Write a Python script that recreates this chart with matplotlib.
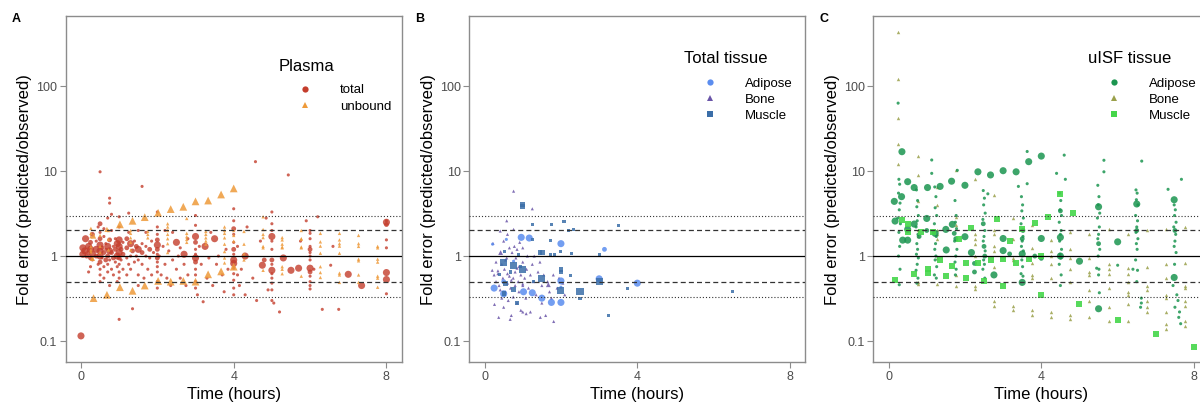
import numpy as np
import matplotlib
matplotlib.use("Agg")
import matplotlib.pyplot as plt
from matplotlib.lines import Line2D
from matplotlib.ticker import NullLocator

plt.rcParams['font.family'] = ['Liberation Sans', 'DejaVu Sans']

# ---- Panel A: plasma ----
plasma_total_t = [
    0.0, 0.05, 0.05, 0.1, 0.12, 0.15, 0.2, 0.2, 0.25, 0.25, 0.25, 0.25, 0.2, 0.3, 0.3, 0.3,
    0.4, 0.4, 0.4, 0.45, 0.45, 0.5, 0.5, 0.5, 0.5, 0.5, 0.5, 0.5, 0.5, 0.5, 0.5, 0.5, 0.55, 0.55, 0.6, 0.6, 0.6, 0.6, 0.6, 0.65, 0.65, 0.65,
    0.7, 0.7, 0.7, 0.7, 0.7, 0.75, 0.75, 0.75, 0.75, 0.75, 0.75, 0.8, 0.8, 0.8, 0.8, 0.85, 0.85, 0.85,
    0.9, 0.9, 0.9, 0.95, 0.95, 0.95, 0.95, 1.0, 1.0, 1.0, 1.0, 1.0, 1.0, 1.0, 1.0, 1.0, 1.0, 1.05, 1.05, 1.1, 1.1, 1.1,
    1.2, 1.2, 1.2, 1.2, 1.25, 1.25, 1.25, 1.3, 1.3, 1.3, 1.35, 1.35, 1.4, 1.4, 1.45, 1.45, 1.5, 1.5, 1.5, 1.5, 1.5,
    1.6, 1.6, 1.6, 1.6, 1.65, 1.7, 1.7, 1.7, 1.75, 1.8, 1.8, 1.85, 1.85, 1.9,
    2.0, 2.0, 2.0, 2.0, 2.0, 2.0, 2.0, 2.0, 2.0, 2.0, 2.0, 2.0, 2.0, 2.05, 2.1, 2.15, 2.2, 2.2, 2.25, 2.3, 2.35, 2.4, 2.4,
    2.5, 2.5, 2.55, 2.6, 2.6, 2.7, 2.7, 2.75, 2.8, 2.8,
    3.0, 3.0, 3.0, 3.0, 3.0, 3.0, 3.0, 3.0, 3.0, 3.0, 3.0, 3.0, 3.05, 3.1, 3.15, 3.2, 3.25, 3.3, 3.35, 3.4, 3.45, 3.5, 3.55, 3.6, 3.7, 3.75, 3.8, 3.85,
    4.0, 4.0, 4.0, 4.0, 4.0, 4.0, 4.0, 4.0, 4.0, 4.0, 4.0, 4.0, 4.0, 4.0, 4.1, 4.1, 4.15, 4.2, 4.3, 4.3, 4.35, 4.5, 4.57, 4.6, 4.7, 4.75, 4.8, 4.85, 4.9,
    5.0, 5.0, 5.0, 5.0, 5.0, 5.0, 5.0, 5.0, 5.0, 5.0, 5.0, 5.0, 5.0, 5.0, 5.05, 5.2, 5.3, 5.43, 5.5, 5.7, 5.75,
    5.9, 6.0, 6.0, 6.0, 6.0, 6.0, 6.0, 6.0, 6.0, 6.0, 6.0, 6.0, 6.0, 6.0, 6.0, 6.1, 6.2, 6.32, 6.54, 6.6, 6.75, 7.0, 7.35,
    8.0, 8.0, 8.0, 8.0, 8.0, 8.0, 8.0, 8.0,
]
plasma_total_fe = [
    0.115, 1.05, 1.25, 1.15, 1.6, 1.0, 1.3, 1.1, 0.95, 0.75, 1.45, 1.2, 0.65, 1.8, 1.05, 0.9,
    1.5, 1.2, 1.0, 0.8, 2.2, 9.8, 2.4, 1.9, 1.6, 1.35, 1.15, 1.0, 0.85, 0.7, 0.6, 0.5, 1.25, 0.95, 1.7, 1.1, 0.75, 0.55, 2.1, 1.4, 0.9, 1.2,
    1.3, 1.0, 0.8, 0.65, 2.8, 4.8, 4.2, 1.55, 1.15, 0.9, 0.45, 2.0, 1.1, 0.7, 3.1, 1.3, 0.6, 0.95,
    1.2, 0.85, 1.6, 1.0, 1.4, 0.75, 0.5, 1.55, 1.3, 1.1, 0.95, 0.8, 0.65, 0.55, 0.18, 2.2, 2.9, 1.2, 0.9, 1.45, 0.7, 1.05,
    1.6, 1.25, 0.95, 0.6, 1.9, 3.2, 0.8, 1.4, 1.0, 0.7, 0.24, 1.15, 1.5, 0.85, 1.3, 1.0, 1.2, 0.9, 0.6, 2.0, 0.45,
    6.6, 1.4, 1.1, 0.8, 0.55, 1.9, 1.0, 1.3, 0.7, 1.2, 0.95, 1.5, 0.6, 1.1,
    3.3, 2.2, 1.8, 1.55, 1.35, 1.2, 1.05, 0.95, 0.85, 0.75, 0.65, 0.5, 0.42, 1.0, 0.6, 1.3, 0.8, 2.0, 0.55, 1.15, 0.45, 1.9, 0.9,
    1.45, 0.7, 1.0, 0.55, 1.25, 1.05, 0.8, 0.45, 1.6, 0.6,
    3.0, 2.3, 1.7, 1.45, 1.2, 1.05, 0.95, 0.85, 0.7, 0.6, 0.5, 0.42, 0.35, 1.3, 0.8, 0.29, 1.3, 0.55, 0.95, 1.9, 0.45, 1.6, 0.8, 1.0, 0.6, 0.38, 1.2, 0.7,
    3.6, 2.6, 2.1, 1.8, 1.45, 1.2, 1.05, 0.9, 0.82, 0.72, 0.62, 0.52, 0.42, 0.35, 1.3, 0.6, 0.45, 0.7, 1.0, 0.35, 2.2, 0.55, 12.9, 0.3, 1.5, 0.78, 0.9, 2.8, 0.4,
    3.3, 2.4, 2.0, 1.7, 1.5, 1.2, 0.9, 0.8, 0.68, 0.62, 0.55, 0.48, 0.4, 0.3, 0.28, 0.22, 0.95, 9.0, 0.68, 0.72, 1.5,
    2.6, 2.0, 1.85, 1.6, 1.3, 1.2, 1.1, 1.0, 0.9, 0.72, 0.65, 0.58, 0.5, 0.45, 0.41, 0.7, 2.9, 0.236, 0.78, 1.3, 0.236, 0.61, 0.45,
    2.5, 2.35, 2.6, 1.55, 1.25, 0.64, 0.53, 0.36,
]
plasma_total_size = [
    3, 3, 3, 3, 3, 2, 3, 2, 2, 1, 2, 3, 1, 2, 3, 1,
    1, 3, 2, 1, 1, 1, 2, 1, 2, 3, 3, 3, 2, 1, 1, 1, 2, 1, 1, 2, 1, 1, 1, 1, 2, 1,
    3, 2, 1, 1, 1, 1, 1, 2, 3, 1, 1, 1, 2, 1, 1, 1, 1, 2,
    2, 1, 1, 3, 3, 1, 1, 3, 3, 3, 2, 1, 1, 1, 1, 1, 1, 2, 1, 1, 1, 2,
    2, 2, 1, 1, 1, 1, 1, 3, 1, 1, 1, 2, 1, 1, 2, 1, 3, 1, 1, 1, 1,
    1, 1, 2, 1, 1, 1, 1, 1, 1, 2, 1, 1, 1, 1,
    1, 1, 1, 2, 3, 2, 1, 2, 1, 1, 1, 1, 1, 1, 1, 1, 1, 1, 1, 1, 1, 1, 1,
    3, 1, 1, 1, 1, 3, 1, 1, 1, 1,
    1, 1, 3, 2, 1, 1, 3, 2, 1, 1, 1, 1, 1, 1, 1, 1, 3, 1, 1, 1, 1, 3, 1, 1, 1, 1, 1, 1,
    1, 1, 2, 1, 1, 2, 1, 3, 3, 1, 1, 1, 1, 1, 1, 1, 1, 1, 3, 1, 1, 1, 1, 1, 1, 3, 2, 1, 1,
    1, 1, 1, 3, 1, 1, 2, 1, 3, 1, 1, 1, 1, 1, 1, 1, 3, 1, 3, 3, 1,
    1, 1, 1, 1, 1, 2, 1, 1, 1, 3, 2, 1, 1, 1, 1, 1, 1, 1, 1, 1, 1, 3, 3,
    3, 2, 1, 1, 1, 3, 3, 1,
]

plasma_unbound_t = [
    0.33, 0.68, 1.02, 1.35, 1.67, 2.02, 2.35, 2.68, 3.0, 3.33, 3.67, 4.0,
    1.02, 1.35, 1.67, 2.02, 2.35, 2.68, 3.0, 3.33, 3.67, 4.0,
    0.3, 0.68, 0.33,
    0.26, 0.26, 0.26, 0.26, 0.26, 0.26,
    0.5, 0.5, 0.5, 0.72, 0.72, 0.72,
    1.3, 1.3, 1.3, 1.3, 1.3, 1.75, 1.75, 1.75,
    2.27, 2.27, 2.27, 2.27, 2.27, 2.27, 2.27,
    2.77, 2.77, 2.77, 2.77, 2.77,
    3.27, 3.27, 3.27, 3.27, 3.27,
    3.76, 3.76, 3.76, 3.76, 3.76, 3.76, 3.76, 3.76,
    4.0, 4.0, 4.0, 4.27, 4.27, 4.27, 4.27,
    4.77, 4.77, 4.77, 4.77, 4.77, 4.77, 4.77,
    5.27, 5.27, 5.27, 5.27, 5.27, 5.27, 5.27, 5.27,
    5.77, 5.77, 5.77, 5.77, 5.77, 5.77,
    6.27, 6.27, 6.27, 6.27, 6.27, 6.27, 6.27,
    6.77, 6.77, 6.77, 6.77, 6.77, 6.77, 6.77, 6.77,
    7.27, 7.27, 7.27, 7.27, 7.27, 7.27, 7.27,
    7.77, 7.77, 7.77, 7.77, 7.77, 7.77, 7.77,
]
plasma_unbound_fe = [
    0.32, 0.35, 0.43, 0.39, 0.45, 0.51, 0.5, 0.51, 0.5, 0.61, 0.66, 0.75,
    2.36, 2.6, 2.87, 3.23, 3.57, 3.8, 4.4, 4.5, 5.3, 6.25,
    0.94, 2.06, 1.72,
    2.12, 1.85, 1.69, 1.29, 1.18, 1.12,
    1.75, 1.3, 1.1, 2.0, 1.57, 1.18,
    2.0, 1.85, 1.64, 1.45, 1.18, 1.95, 1.8, 1.64,
    2.4, 2.2, 2.0, 1.8, 1.6, 1.4, 1.1,
    2.77, 1.85, 1.69, 1.57, 1.45,
    1.95, 1.8, 1.64, 1.5, 1.38,
    2.2, 2.0, 1.85, 1.64, 1.38, 1.13, 0.95, 0.83,
    2.0, 1.75, 1.5, 1.95, 1.38, 1.06, 0.9,
    2.9, 2.05, 1.8, 1.65, 1.3, 1.25, 0.68,
    1.65, 1.55, 1.38, 1.28, 1.25, 0.75, 0.7, 0.62,
    2.0, 1.6, 1.58, 1.28, 1.25, 0.58,
    1.85, 1.47, 1.31, 1.08, 0.75, 0.64, 0.56,
    1.85, 1.55, 1.4, 1.31, 1.08, 0.63, 0.6, 0.49,
    1.75, 1.4, 1.3, 0.92, 0.88, 0.6, 0.49,
    1.3, 1.25, 0.92, 0.85, 0.58, 0.55, 0.43,
]
plasma_unbound_size = [3] * 22 + [2] * 3 + [1] * (len(plasma_unbound_t) - 25)

# ---- Panel B: total tissue ----
tissue_adipose_t = [0.96, 1.17, 2.0, 3.14, 0.25, 0.5, 1.02, 1.25, 1.5, 1.75, 2.0, 2.0, 3.0, 4.0, 0.5, 0.76, 2.0, 0.57, 0.21]
tissue_adipose_fe = [1.66, 1.63, 1.4, 1.2, 0.42, 0.36, 0.38, 0.37, 0.32, 0.285, 0.285, 0.51, 0.54, 0.48, 0.5, 0.87, 0.43, 1.57, 1.38]
tissue_adipose_size = [3, 3, 3, 2, 3, 3, 3, 3, 3, 3, 3, 3, 3, 3, 2, 1, 1, 1, 1]

tissue_bone_t = [
    0.76, 1.25, 0.58, 0.41, 0.76, 0.22, 0.35, 0.41, 0.26, 0.37, 0.67, 1.0, 1.09, 1.46, 1.81,
    0.2, 0.25, 0.3, 0.35, 0.38, 0.45, 0.45, 0.48, 0.5, 0.5, 0.52, 0.55, 0.58, 0.6, 0.6, 0.62,
    0.65, 0.65, 0.68, 0.7, 0.72, 0.75, 0.75, 0.78, 0.8, 0.8, 0.82, 0.85, 0.85, 0.88, 0.9, 0.9,
    0.92, 0.95, 0.95, 1.0, 1.0, 1.0, 1.05, 1.08, 1.1, 1.12, 1.15, 1.2, 1.2, 1.25, 1.28, 1.3,
    1.35, 1.4, 1.45, 1.5, 1.5, 1.55, 1.6, 1.65, 1.67, 1.7, 1.75, 1.8, 1.9, 1.95, 2.05, 2.1,
    0.6, 0.85, 1.0, 0.3, 0.42, 0.55, 0.7,
]
tissue_bone_fe = [
    5.8, 3.6, 2.6, 1.97, 2.06, 1.41, 0.67, 0.4, 0.27, 0.19, 0.18, 0.22, 0.21, 0.19, 0.17,
    0.68, 0.6, 0.5, 0.62, 0.45, 0.32, 0.8, 0.55, 1.5, 0.25, 0.7, 0.38, 0.95, 0.48, 1.8, 0.3,
    0.58, 1.25, 0.42, 0.2, 1.1, 0.55, 0.33, 1.3, 0.65, 0.45, 0.95, 1.2, 0.28, 0.5, 0.75, 0.38,
    1.45, 0.6, 0.23, 0.45, 0.85, 1.25, 0.55, 0.32, 0.7, 1.0, 0.42, 0.22, 0.6, 0.8, 0.5, 1.0,
    0.35, 0.65, 0.85, 0.45, 0.28, 0.6, 0.2, 0.5, 0.46, 0.38, 0.32, 0.6, 0.42, 0.55, 0.48, 0.35,
    0.62, 0.72, 0.47, 0.85, 1.1, 0.9, 0.52,
]
tissue_bone_size = [1] * 71 + [2] + [1] * 11 + [2] + [1] * 3
tissue_bone_size = tissue_bone_size[:len(tissue_bone_t)]

tissue_muscle_t = [
    1.0, 1.0, 1.25, 1.76, 2.08, 2.33, 2.2, 3.5, 1.72, 1.25, 1.45, 1.52, 1.72, 1.82, 2.0, 2.28, 3.0,
    0.5, 0.76, 1.0, 1.5, 2.0, 2.5, 3.0, 0.51, 0.76, 0.85, 2.0, 2.0, 2.26, 3.75, 3.24, 6.5, 2.5,
    0.52, 0.67, 0.89, 0.55, 0.95, 1.28, 0.4,
]
tissue_muscle_fe = [
    4.0, 3.8, 2.36, 2.38, 2.53, 2.06, 2.0, 2.3, 1.54, 1.57, 1.1, 1.1, 1.03, 1.03, 1.12, 1.07, 1.05,
    0.84, 0.77, 0.7, 0.54, 0.39, 0.38, 0.5, 0.36, 0.4, 0.28, 0.7, 0.65, 0.59, 0.42, 0.2, 0.38, 0.32,
    1.12, 0.65, 1.03, 0.48, 0.75, 0.5, 0.6,
]
tissue_muscle_size = [
    2, 2, 1, 1, 1, 1, 1, 1, 1, 1, 2, 2, 1, 1, 1, 1, 1,
    3, 3, 3, 3, 3, 3, 3, 2, 2, 2, 2, 2, 1, 1, 1, 1, 1,
    1, 1, 1, 2, 1, 1, 1,
]

# ---- Panel C: uISF tissue ----
isf_adipose_t = [
    0.15, 0.35, 0.34, 0.17, 0.37, 0.5, 0.67, 1.02, 1.35, 1.65, 2.0, 2.34, 2.67, 3.0, 3.34, 3.67, 4.0,
    0.5, 0.67, 0.8, 1.0, 1.0, 1.22, 1.5, 1.67, 1.72, 1.76, 1.51, 2.0, 2.17, 2.25, 2.25, 2.76,
    3.0, 3.0, 3.17, 3.5, 3.83, 4.0, 4.0, 4.5, 4.5, 5.0, 5.5, 6.0, 7.48, 7.48, 6.5, 5.5, 3.5, 0.5,
    2.5, 2.48, 3.5, 3.52, 4.5, 5.5, 6.5, 7.5, 2.52,
    0.25, 0.27, 0.29, 0.26, 0.3, 0.28, 0.24, 0.31, 0.27, 0.29, 0.26, 0.3, 0.28,
    0.73, 0.76, 0.74, 0.78, 0.75, 0.72, 0.77, 0.74, 0.76, 0.73, 0.78, 0.75, 0.72, 0.77, 0.74,
    1.13, 1.13,
    1.21, 1.24, 1.22, 1.26, 1.2, 1.25, 1.23, 1.21, 1.24, 1.22, 1.26, 1.2, 1.25,
    1.8, 1.74, 1.77, 1.75, 1.78, 1.73, 1.79, 1.76, 1.74, 1.77, 1.75,
    2.48, 2.51, 2.49, 2.53, 2.47, 2.52, 2.5, 2.48, 2.53, 2.49, 2.51, 2.47, 2.52,
    2.6, 3.4,
    3.48, 3.51, 3.49, 3.53, 3.47, 3.52, 3.5, 3.48, 3.53, 3.49, 3.51, 3.47, 3.52,
    3.63, 3.63, 4.4,
    4.48, 4.51, 4.49, 4.53, 4.47, 4.52, 4.5, 4.48, 4.53, 4.49, 4.51, 4.47, 4.52, 4.5,
    4.6, 4.63,
    5.48, 5.51, 5.49, 5.53, 5.47, 5.52, 5.5, 5.48, 5.53, 5.49, 5.45, 5.51, 5.5, 5.52,
    5.64, 5.64, 6.0,
    6.48, 6.51, 6.49, 6.53, 6.47, 6.52, 6.5, 6.48, 6.53, 6.49, 6.51, 6.47, 6.4, 6.52, 6.5, 6.62, 6.62, 6.6,
    6.63,
    7.32, 7.48, 7.51, 7.49, 7.53, 7.47, 7.52, 7.5, 7.48, 7.53, 7.49, 7.45, 7.55, 7.58, 7.5, 7.62, 7.6, 7.65,
    7.67,
]
isf_adipose_fe = [
    4.4, 16.9, 5.0, 2.58, 1.54, 7.5, 6.4, 6.4, 6.6, 7.6, 6.8, 9.8, 9.0, 10.1, 9.8, 12.9, 15.0,
    2.06, 2.38, 1.7, 2.77, 2.0, 1.85, 2.06, 2.36, 1.85, 1.6, 1.18, 1.69, 1.1, 0.82, 0.65, 0.6,
    1.61, 1.16, 1.06, 1.06, 1.0, 1.61, 0.94, 1.66, 1.0, 0.87, 0.24, 1.47, 0.56, 4.6, 4.1, 3.8, 0.49, 1.54,
    1.3, 2.4, 1.6, 2.0, 3.4, 1.4, 2.0, 2.0, 1.0,
    63.0, 8.0, 7.0, 5.5, 4.2, 3.5, 2.8, 2.4, 1.9, 1.3, 1.0, 0.7, 0.46,
    6.0, 4.5, 3.8, 3.0, 2.6, 2.2, 1.8, 1.4, 1.2, 1.05, 0.95, 0.8, 0.68, 0.55, 0.48,
    13.5, 9.4,
    6.5, 5.0, 3.7, 3.0, 2.4, 1.7, 1.4, 1.2, 1.0, 0.9, 0.75, 0.6, 0.55,
    10.2, 4.5, 3.0, 2.5, 2.1, 1.5, 1.2, 1.0, 0.85, 0.7, 0.6,
    5.9, 4.8, 4.0, 3.2, 2.7, 2.0, 1.7, 1.5, 1.15, 0.9, 0.8, 0.7, 0.55,
    5.4, 6.6,
    5.0, 4.0, 3.4, 2.8, 2.4, 1.7, 1.5, 1.3, 1.15, 0.9, 0.75, 0.62, 0.58,
    17.0, 7.1, 9.4,
    5.5, 4.5, 3.5, 3.0, 2.5, 2.0, 1.8, 1.5, 1.2, 1.05, 0.95, 0.8, 0.6, 0.45,
    15.4, 8.0,
    6.8, 5.0, 4.0, 3.2, 2.8, 2.2, 1.8, 1.6, 1.2, 1.0, 0.72, 0.7, 0.6, 0.37,
    13.4, 9.8, 0.78,
    6.0, 5.5, 4.6, 4.0, 3.0, 2.6, 2.2, 1.9, 1.6, 1.4, 1.2, 0.9, 0.7, 0.68, 0.5, 0.32, 0.28, 0.25,
    13.1,
    6.1, 4.0, 3.5, 3.0, 2.5, 2.2, 1.8, 1.5, 1.3, 1.1, 0.8, 0.45, 0.35, 0.3, 0.25, 0.22, 0.19, 0.16,
    8.0,
]
isf_adipose_size = [3] * 17 + [3, 3, 2, 3, 2, 3, 3, 3, 2, 2, 3, 3, 3, 2, 2, 3] + \
    [3, 3, 2, 3, 2, 3, 2, 3, 3, 3, 3, 3, 3, 3, 3, 3, 3, 3] + [2] * 9
isf_adipose_size = isf_adipose_size + [1] * (len(isf_adipose_t) - len(isf_adipose_size))

isf_bone_t = [
    0.26, 0.26, 0.26, 0.26, 0.26,
    0.76, 0.76, 0.76, 0.76, 0.76, 0.76, 0.76,
    1.26, 1.26, 1.26, 1.26, 1.26, 1.26, 1.26,
    1.76, 1.76, 1.76, 1.76, 1.76, 1.76,
    2.26, 2.26, 2.26, 2.26, 2.26, 2.26, 2.26,
    2.76, 2.76, 2.76, 2.76, 2.76, 2.76, 2.76, 2.76,
    3.26, 3.26, 3.26, 3.26, 3.26, 3.26,
    3.76, 3.76, 3.76, 3.76, 3.76, 3.76, 3.76,
    4.26, 4.26, 4.26, 4.26, 4.26, 4.26, 4.26,
    4.76, 4.76, 4.76, 4.76, 4.76, 4.76, 4.76,
    5.26, 5.26, 5.26, 5.26, 5.26, 5.26, 5.26,
    5.76, 5.76, 5.76, 5.76, 5.76, 5.76, 5.76,
    6.26, 6.26, 6.26, 6.26, 6.26, 6.26, 6.26, 6.26,
    6.76, 6.76, 6.76, 6.76, 6.76, 6.76, 6.76,
    7.26, 7.26, 7.26, 7.26, 7.26, 7.26, 7.26, 7.26,
    7.76, 7.76, 7.76, 7.76, 7.76, 7.76, 7.76, 7.76,
]
isf_bone_fe = [
    430, 120, 42, 21, 12,
    15, 9.0, 4.5, 2.0, 1.7, 0.5, 0.47,
    6.5, 4.0, 2.0, 1.8, 1.6, 0.95, 0.47,
    10.3, 2.9, 2.3, 1.6, 0.6, 0.44,
    8.0, 1.8, 1.6, 1.4, 0.99, 0.44, 0.41,
    5.3, 2.0, 1.8, 1.3, 1.15, 0.75, 0.3, 0.26,
    2.8, 1.6, 0.95, 0.9, 0.26, 0.23,
    2.3, 1.25, 0.82, 0.6, 0.55, 0.23, 0.2,
    1.55, 1.15, 1.0, 0.8, 0.55, 0.22, 0.19,
    1.9, 1.2, 0.95, 0.7, 0.5, 0.2, 0.18,
    1.8, 0.95, 0.65, 0.6, 0.4, 0.3, 0.19,
    2.1, 0.8, 0.7, 0.62, 0.42, 0.25, 0.17,
    1.8, 0.72, 0.62, 0.5, 0.38, 0.35, 0.27, 0.17,
    2.05, 0.75, 0.45, 0.4, 0.3, 0.25, 0.22,
    2.1, 0.8, 0.55, 0.35, 0.32, 0.22, 0.16, 0.14,
    2.2, 0.82, 0.45, 0.42, 0.3, 0.26, 0.17, 0.15,
]

isf_muscle_t = [
    0.17, 0.34, 0.51, 0.51, 0.67, 0.84, 1.02, 1.02, 1.17, 1.35, 1.51, 1.67, 1.84, 2.02, 2.02,
    2.17, 2.35, 2.51, 2.67, 2.84, 3.0, 3.0, 3.17, 3.34, 3.5, 3.67, 3.84, 4.0, 4.0, 4.17,
    4.5, 4.83, 5.0, 6.0, 7.0, 8.0,
]
isf_muscle_fe = [
    0.52, 2.65, 2.36, 1.9, 0.61, 1.9, 0.7, 0.64, 1.9, 0.9, 0.58, 0.77, 1.57, 0.84, 0.55,
    2.15, 0.82, 0.51, 0.9, 2.72, 0.92, 0.44, 1.52, 0.83, 2.08, 0.92, 2.42, 1.0, 0.35, 2.85,
    5.36, 3.17, 0.27, 0.177, 0.12, 0.086,
]

size_area = {1: 5, 2: 12, 3: 26}


def areas(codes, scale=1.0):
    return [size_area[c] * scale for c in codes]


def setup_panel(ax, letter, x_letter):
    ax.set_yscale('log')
    ax.set_xlim(-0.4, 8.4)
    ax.set_ylim(10 ** -1.25, 10 ** 2.824)
    ax.axhline(1, color='black', lw=0.9, zorder=3)
    for v in (2, 0.5):
        ax.axhline(v, color='#333333', lw=0.9, ls=(0, (4, 2.5)), zorder=3)
    for v in (3, 1 / 3):
        ax.axhline(v, color='#333333', lw=0.8, ls=(0, (1, 1.8)), zorder=3)
    ax.set_xticks([0, 4, 8])
    ax.set_xticklabels(['0', '4', '8'])
    ax.set_yticks([0.1, 1, 10, 100])
    ax.set_yticklabels(['0.1', '1', '10', '100'])
    ax.yaxis.set_minor_locator(NullLocator())
    for sp in ax.spines.values():
        sp.set_color('#8c8c8c')
        sp.set_linewidth(1.0)
    ax.tick_params(colors='#8c8c8c', labelcolor='#4d4d4d', labelsize=9, length=4, width=0.8, pad=2)
    ax.set_xlabel('Time (hours)', fontsize=12, labelpad=3)
    ax.set_ylabel('Fold error (predicted/observed)', fontsize=12, labelpad=3)
    fig.text(x_letter / 1200, 1 - 19 / 405, letter, fontsize=9, fontweight='bold',
             ha='center', va='center')


def add_legend(ax, title, labels, colors, markers, x, y_title, y_rows):
    ax.text(x, y_title, title, transform=ax.transAxes, fontsize=12, ha='left', va='center')
    handles = [Line2D([], [], ls='none', marker=m, color=c, markersize=4.5, markeredgewidth=0)
               for m, c in zip(markers, colors)]
    ax.legend(handles, labels, loc='upper left', bbox_to_anchor=(x, y_rows),
              frameon=False, fontsize=9.5, handlelength=4.0, handletextpad=0.6,
              labelspacing=0.3, borderpad=0, borderaxespad=0)


fig = plt.figure(figsize=(12, 4.05), dpi=100)
axA = fig.add_axes([65.7 / 1200, 0.1054, 336 / 1200, 0.855])
axB = fig.add_axes([469.3 / 1200, 0.1054, 336 / 1200, 0.855])
axC = fig.add_axes([873.3 / 1200, 0.1054, 336 / 1200, 0.855])

red, orange = '#C43D2C', '#EE9A3A'
b_adi, b_bone, b_mus = '#5B8DEF', '#6A55A8', '#3B6EA8'
c_adi, c_bone, c_mus = '#1B9550', '#9AA04A', '#45D64A'

# panel A
setup_panel(axA, 'A', 16)
axA.scatter(plasma_total_t, plasma_total_fe, s=areas(plasma_total_size), c=red,
            marker='o', alpha=0.8, linewidths=0, zorder=2)
axA.scatter(plasma_unbound_t, plasma_unbound_fe, s=areas(plasma_unbound_size, 1.2), c=orange,
            marker='^', alpha=0.85, linewidths=0, zorder=2)
add_legend(axA, 'Plasma', ['total', 'unbound'], [red, orange], ['o', '^'], 0.635, 0.8556, 0.803)

# panel B
setup_panel(axB, 'B', 420)
axB.scatter(tissue_bone_t, tissue_bone_fe, s=areas(tissue_bone_size), c=b_bone,
            marker='^', alpha=0.85, linewidths=0, zorder=2)
axB.scatter(tissue_adipose_t, tissue_adipose_fe, s=areas(tissue_adipose_size), c=b_adi,
            marker='o', alpha=0.85, linewidths=0, zorder=2)
axB.scatter(tissue_muscle_t, tissue_muscle_fe, s=areas(tissue_muscle_size), c=b_mus,
            marker='s', alpha=0.85, linewidths=0, zorder=2)
add_legend(axB, 'Total tissue', ['Adipose', 'Bone', 'Muscle'], [b_adi, b_bone, b_mus],
           ['o', '^', 's'], 0.639, 0.8787, 0.823)

# panel C
setup_panel(axC, 'C', 824)
axC.scatter(isf_bone_t, isf_bone_fe, s=6, c=c_bone, marker='^', alpha=0.85, linewidths=0, zorder=2)
axC.scatter(isf_adipose_t, isf_adipose_fe, s=areas(isf_adipose_size), c=c_adi,
            marker='o', alpha=0.85, linewidths=0, zorder=2)
axC.scatter(isf_muscle_t, isf_muscle_fe, s=20, c=c_mus, marker='s', alpha=0.9, linewidths=0, zorder=2)
add_legend(axC, 'uISF tissue', ['Adipose', 'Bone', 'Muscle'], [c_adi, c_bone, c_mus],
           ['o', '^', 's'], 0.639, 0.8787, 0.823)

fig.savefig('out.png', dpi=100)
